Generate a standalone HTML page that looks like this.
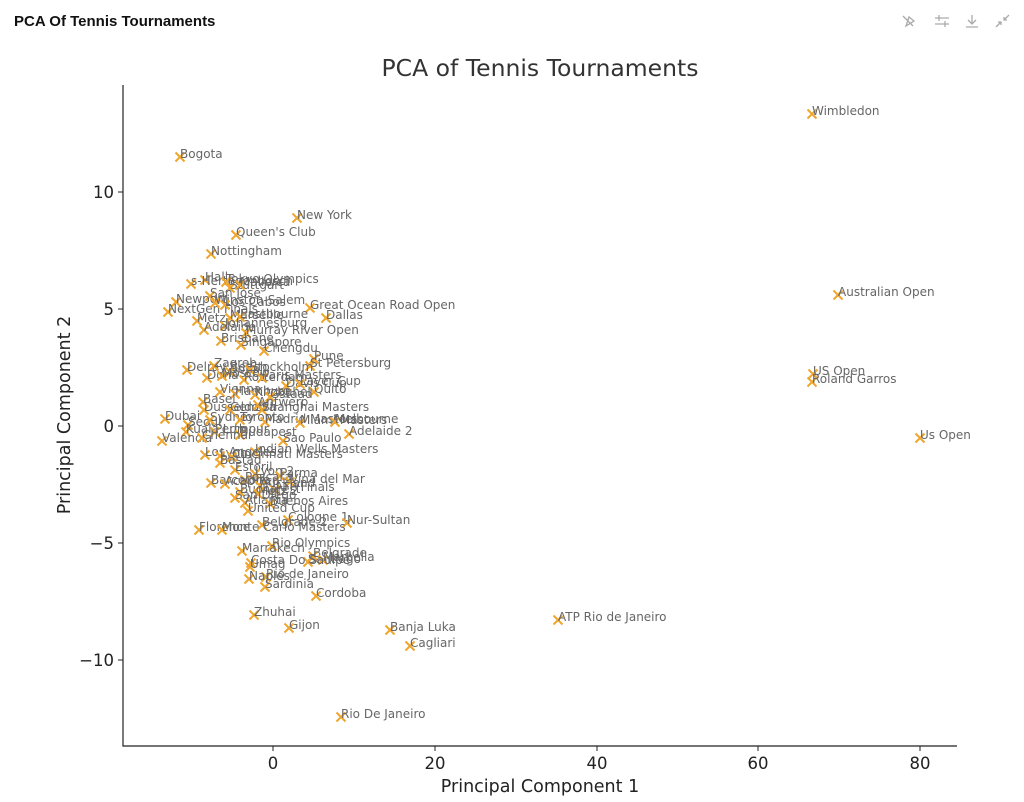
<!DOCTYPE html>
<html><head><meta charset="utf-8"><style>
body{margin:0;background:#fff;width:1024px;height:802px;overflow:hidden;font-family:"Liberation Sans",sans-serif}
.hdr{position:absolute;left:14px;top:13px;font-size:15px;font-weight:bold;color:#111}
svg{position:absolute;left:0;top:0}
.l{font-size:12px;fill:#666}
</style></head><body>
<div class="hdr">PCA Of Tennis Tournaments</div>
<svg width="1024" height="802" font-family="DejaVu Sans, Liberation Sans, sans-serif">
<g stroke="#aaa" stroke-width="1.3" fill="none">
<path d="M903 16 l10 10 M906 26 l3-9 l5 4z"/>
<path d="M935 18 h14 M935 24 h14 M939 15 v6 M945 21 v6"/>
<path d="M972 15 v9 M968 20 l4 4 l4-4 M966 27 h12"/>
<path d="M996 27 l5-5 M1001 25 v-3 h-3 M1009 15 l-5 5 M1004 17 v3 h3"/>
</g>
<text x="540" y="76" text-anchor="middle" font-size="23.5" fill="#333">PCA of Tennis Tournaments</text>
<path d="M123 85 V746 H957" stroke="#222" stroke-width="1.2" fill="none"/>
<g stroke="#222" stroke-width="1">
<path d="M273 746v5M435 746v5M597 746v5M758 746v5M920 746v5"/>
<path d="M123 192h-5M123 309h-5M123 426h-5M123 543h-5M123 660h-5"/>
</g>
<g font-size="16.5" fill="#222" text-anchor="middle">
<text x="273" y="769">0</text><text x="435" y="769">20</text><text x="597" y="769">40</text><text x="758" y="769">60</text><text x="920" y="769">80</text>
<text x="540" y="792" font-size="17.5">Principal Component 1</text>
</g>
<g font-size="16.5" fill="#222" text-anchor="end">
<text x="114" y="198">10</text><text x="114" y="315">5</text><text x="114" y="432">0</text><text x="114" y="549">−5</text><text x="114" y="666">−10</text>
</g>
<text transform="translate(70 415) rotate(-90)" text-anchor="middle" font-size="17.5" fill="#222">Principal Component 2</text>
<g id="pts"></g>
</svg>
<script>
var d=[[812,114,"Wimbledon"],[180,157,"Bogota"],[297,218,"New York"],[236,235,"Queen's Club"],[211,254,"Nottingham"],
[205,280,"Halle"],[191,284,"s-Hertogenbosch"],[226,282,"Tokyo Olympics"],[230,288,"Stuttgart"],[240,285,"Mallorca"],[210,296,"San Jose"],
[838,295,"Australian Open"],[310,308,"Great Ocean Road Open"],[326,318,"Dallas"],[176,302,"Newport"],[168,312,"NextGen Finals"],
[215,303,"Winston-Salem"],[225,305,"Los Cabos"],[230,318,"Marseille"],[197,321,"Metz"],[240,317,"Eastbourne"],[225,326,"Johannesburg"],
[204,330,"Adelaide"],[246,333,"Murray River Open"],[221,341,"Brisbane"],[241,345,"Singapore"],[264,351,"Chengdu"],[314,359,"Pune"],
[310,366,"St Petersburg"],[187,370,"Delray Beach"],[214,366,"Zagreb"],[230,372,"Sofia"],[250,370,"Stockholm"],[207,378,"Doha"],[222,376,"Moscow"],
[244,380,"Rotterdam"],[262,378,"Paris Masters"],[286,386,"Davis Cup"],[300,384,"Laver Cup"],[314,392,"Quito"],[220,392,"Vienna"],[235,394,"Hamburg"],
[255,395,"Kitzbuhel"],[270,397,"Gstaad"],[203,402,"Basel"],[204,410,"Dusseldorf"],[230,410,"Geneva"],[258,405,"Antwerp"],[262,410,"Shanghai Masters"],
[165,419,"Dubai"],[188,425,"Seoul"],[210,420,"Sydney"],[240,420,"Toronto"],[265,422,"Madrid Masters"],[300,423,"Miami Masters"],[335,422,"Melbourne"],
[186,432,"Kuala Lumpur"],[215,432,"Perth"],[240,435,"Budapest"],[349,434,"Adelaide 2"],[162,441,"Valencia"],[202,438,"Chennai"],[283,441,"Sao Paulo"],
[255,452,"Indian Wells Masters"],[205,455,"Los Angeles"],[220,456,"Lyon"],[232,457,"Cincinnati Masters"],[220,463,"Bastad"],[235,470,"Estoril"],
[255,474,"Lyon 2"],[280,476,"Parma"],[245,480,"Pescara"],[290,482,"Vina del Mar"],[211,483,"Barcelona"],[225,484,"Acapulco"],[260,486,"Auckland"],
[275,490,"ATP Finals"],[240,492,"Bucharest"],[258,494,"Metz 2"],[235,498,"San Diego"],[245,503,"Atlanta"],[270,504,"Buenos Aires"],[248,511,"United Cup"],
[288,520,"Cologne 1"],[347,523,"Nur-Sultan"],[262,525,"Belgrade 2"],[199,530,"Florence"],[222,530,"Monte Carlo Masters"],[272,546,"Rio Olympics"],
[242,551,"Marrakech"],[313,556,"Belgrade"],[308,562,"Santiago"],[323,560,"Marbella"],[251,563,"Costa Do Sauipe"],[250,567,"Umag"],[266,577,"Rio de Janeiro"],
[249,579,"Naples"],[265,587,"Sardinia"],[316,596,"Cordoba"],[254,615,"Zhuhai"],[289,628,"Gijon"],[390,630,"Banja Luka"],[410,646,"Cagliari"],
[558,620,"ATP Rio de Janeiro"],[341,717,"Rio De Janeiro"],[813,374,"US Open"],[812,382,"Roland Garros"],[920,438,"Us Open"]];
var s="";d.forEach(function(p){var x=p[0],y=p[1];
s+='<path d="M'+(x-4.5)+' '+(y-4.5)+'l9 9M'+(x+4.5)+' '+(y-4.5)+'l-9 9" stroke="#f0a52c" stroke-width="2"/>';
s+='<text class="l" x="'+(x)+'" y="'+(y+1)+'">'+p[2].replace("'","&#39;")+'</text>';});
document.getElementById("pts").innerHTML=s;
</script>
</body></html>
